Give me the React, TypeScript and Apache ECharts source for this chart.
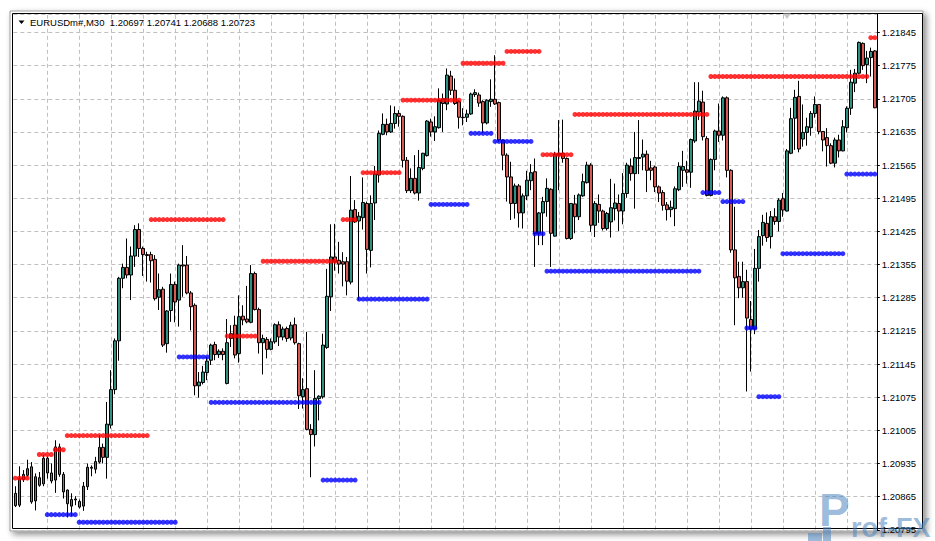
import React, { useEffect, useRef } from "react";
import * as echarts from "echarts";

// ---- data (prices) ----
const symbolTitle = "EURUSDm#,M30  1.20697 1.20741 1.20688 1.20723";
const BASE_PRICE = 1.20795; // lowest price-scale tick
const TICK_STEP = 0.0007;
const AXIS_TOP_PRICE = 1.218836;

// [open, high, low, close]
const ohlc: number[][] = [
  [1.20872,1.20887,1.20843,1.20846],[1.20847,1.20929,1.20843,1.20903],[1.20901,1.20921,1.20896,1.20912],[1.20910,1.20943,1.20907,1.20924],
  [1.20928,1.20938,1.20850,1.20854],[1.20856,1.20914,1.20836,1.20907],[1.20905,1.20917,1.20886,1.20889],[1.20892,1.20953,1.20887,1.20946],
  [1.20946,1.20949,1.20903,1.20915],[1.20915,1.20935,1.20893,1.20898],[1.20900,1.20984,1.20873,1.20970],[1.20970,1.20977,1.20907,1.20912],
  [1.20912,1.20917,1.20861,1.20875],[1.20879,1.20880,1.20821,1.20850],[1.20845,1.20872,1.20824,1.20859],[1.20858,1.20866,1.20847,1.20860],
  [1.20855,1.20859,1.20840,1.20843],[1.20845,1.20896,1.20835,1.20887],[1.20886,1.20935,1.20879,1.20927],[1.20927,1.20931,1.20908,1.20925],
  [1.20923,1.20949,1.20914,1.20939],[1.20938,1.20995,1.20935,1.20969],[1.20969,1.20977,1.20935,1.20948],[1.20948,1.21065,1.20903,1.21018],
  [1.21016,1.21132,1.21009,1.21091],[1.21091,1.21199,1.21081,1.21194],[1.21194,1.21329,1.21152,1.21326],[1.21326,1.21357,1.21305,1.21349],
  [1.21349,1.21410,1.21326,1.21333],[1.21333,1.21393,1.21280,1.21373],[1.21373,1.21438,1.21350,1.21429],[1.21429,1.21442,1.21371,1.21389],
  [1.21389,1.21393,1.21331,1.21376],[1.21376,1.21382,1.21319,1.21374],[1.21376,1.21382,1.21317,1.21363],[1.21366,1.21375,1.21279,1.21283],
  [1.21286,1.21336,1.21259,1.21302],[1.21303,1.21308,1.21181,1.21185],[1.21188,1.21259,1.21169,1.21257],[1.21258,1.21336,1.21234,1.21313],
  [1.21313,1.21319,1.21233,1.21276],[1.21280,1.21357,1.21224,1.21354],[1.21354,1.21396,1.21287,1.21352],[1.21354,1.21373,1.21292,1.21295],
  [1.21295,1.21299,1.21216,1.21266],[1.21269,1.21273,1.21079,1.21099],[1.21099,1.21128,1.21074,1.21107],[1.21106,1.21141,1.21102,1.21128],
  [1.21127,1.21160,1.21111,1.21151],[1.21153,1.21188,1.21143,1.21185],[1.21186,1.21192,1.21153,1.21165],[1.21165,1.21176,1.21158,1.21172],
  [1.21172,1.21178,1.21153,1.21165],[1.21104,1.21240,1.21102,1.21190],[1.21199,1.21227,1.21181,1.21209],[1.21227,1.21247,1.21157,1.21164],
  [1.21167,1.21290,1.21148,1.21245],[1.21246,1.21269,1.21227,1.21238],[1.21240,1.21310,1.21231,1.21234],[1.21233,1.21354,1.21231,1.21336],
  [1.21336,1.21340,1.21258,1.21260],[1.21260,1.21264,1.21167,1.21190],[1.21190,1.21207,1.21123,1.21199],[1.21197,1.21202,1.21157,1.21176],
  [1.21176,1.21199,1.21174,1.21192],[1.21192,1.21231,1.21188,1.21228],[1.21228,1.21235,1.21183,1.21202],[1.21202,1.21224,1.21195,1.21219],
  [1.21220,1.21224,1.21192,1.21199],[1.21200,1.21234,1.21195,1.21227],[1.21228,1.21243,1.21186,1.21190],[1.21188,1.21190,1.21050,1.21078],
  [1.21076,1.21115,1.21051,1.21091],[1.21093,1.21213,1.21005,1.21007],[1.21007,1.21018,1.20906,1.20996],[1.20996,1.21132,1.20971,1.21072],
  [1.21072,1.21079,1.21026,1.21077],[1.21076,1.21209,1.21072,1.21185],[1.21180,1.21346,1.21177,1.21288],[1.21287,1.21440,1.21257,1.21371],
  [1.21371,1.21441,1.21342,1.21361],[1.21364,1.21403,1.21336,1.21356],[1.21361,1.21381,1.21309,1.21356],[1.21361,1.21371,1.21290,1.21320],
  [1.21318,1.21542,1.21313,1.21470],[1.21471,1.21491,1.21443,1.21445],[1.21447,1.21466,1.21280,1.21457],[1.21454,1.21539,1.21429,1.21486],
  [1.21484,1.21488,1.21336,1.21387],[1.21385,1.21501,1.21349,1.21484],[1.21485,1.21563,1.21449,1.21546],[1.21544,1.21638,1.21528,1.21632],
  [1.21630,1.21674,1.21628,1.21651],[1.21651,1.21663,1.21628,1.21635],[1.21635,1.21691,1.21633,1.21653],[1.21653,1.21689,1.21642,1.21674],
  [1.21674,1.21681,1.21646,1.21668],[1.21668,1.21670,1.21560,1.21575],[1.21575,1.21582,1.21506,1.21511],[1.21511,1.21558,1.21506,1.21537],
  [1.21537,1.21586,1.21503,1.21506],[1.21506,1.21597,1.21490,1.21560],[1.21558,1.21591,1.21554,1.21590],[1.21585,1.21660,1.21583,1.21658],
  [1.21656,1.21663,1.21625,1.21635],[1.21635,1.21668,1.21616,1.21646],[1.21644,1.21727,1.21642,1.21702],[1.21695,1.21716,1.21635,1.21705],
  [1.21694,1.21769,1.21681,1.21755],[1.21753,1.21764,1.21713,1.21723],[1.21723,1.21748,1.21692,1.21695],[1.21699,1.21702,1.21642,1.21666],
  [1.21666,1.21685,1.21649,1.21665],[1.21666,1.21682,1.21656,1.21673],[1.21673,1.21718,1.21671,1.21715],[1.21714,1.21725,1.21709,1.21718],
  [1.21713,1.21718,1.21688,1.21696],[1.21699,1.21702,1.21632,1.21654],[1.21654,1.21704,1.21651,1.21702],[1.21699,1.21746,1.21688,1.21704],
  [1.21704,1.21797,1.21692,1.21694],[1.21697,1.21699,1.21614,1.21618],[1.21618,1.21619,1.21554,1.21586],[1.21586,1.21590,1.21488,1.21540],
  [1.21540,1.21572,1.21449,1.21484],[1.21484,1.21526,1.21452,1.21521],[1.21521,1.21525,1.21433,1.21464],[1.21464,1.21505,1.21431,1.21500],
  [1.21500,1.21553,1.21491,1.21533],[1.21532,1.21567,1.21512,1.21549],[1.21551,1.21579,1.21350,1.21421],[1.21421,1.21466,1.21396,1.21464],
  [1.21464,1.21498,1.21396,1.21488],[1.21488,1.21537,1.21456,1.21516],[1.21514,1.21516,1.21350,1.21421],[1.21415,1.21593,1.21414,1.21588],
  [1.21586,1.21660,1.21512,1.21590],[1.21590,1.21661,1.21570,1.21579],[1.21579,1.21581,1.21408,1.21410],[1.21410,1.21485,1.21407,1.21484],
  [1.21483,1.21502,1.21421,1.21456],[1.21456,1.21505,1.21449,1.21502],[1.21500,1.21547,1.21498,1.21530],[1.21528,1.21572,1.21526,1.21565],
  [1.21565,1.21569,1.21424,1.21438],[1.21438,1.21489,1.21413,1.21484],[1.21482,1.21503,1.21443,1.21468],[1.21468,1.21471,1.21427,1.21431],
  [1.21431,1.21466,1.21427,1.21463],[1.21445,1.21536,1.21412,1.21475],[1.21473,1.21526,1.21448,1.21485],[1.21484,1.21503,1.21426,1.21468],
  [1.21468,1.21548,1.21440,1.21505],[1.21505,1.21570,1.21496,1.21565],[1.21563,1.21579,1.21532,1.21547],[1.21547,1.21635,1.21473,1.21581],
  [1.21579,1.21660,1.21546,1.21581],[1.21582,1.21619,1.21554,1.21588],[1.21588,1.21596,1.21508,1.21554],[1.21559,1.21574,1.21533,1.21554],
  [1.21561,1.21564,1.21508,1.21519],[1.21519,1.21522,1.21487,1.21506],[1.21507,1.21512,1.21469,1.21480],[1.21481,1.21487,1.21448,1.21471],
  [1.21471,1.21490,1.21455,1.21476],[1.21473,1.21520,1.21436,1.21515],[1.21513,1.21571,1.21510,1.21562],[1.21554,1.21595,1.21519,1.21562],
  [1.21555,1.21574,1.21526,1.21550],[1.21550,1.21621,1.21517,1.21619],[1.21616,1.21740,1.21612,1.21679],[1.21677,1.21740,1.21660,1.21700],
  [1.21698,1.21722,1.21617,1.21625],[1.21621,1.21626,1.21499,1.21501],[1.21501,1.21579,1.21499,1.21577],[1.21577,1.21640,1.21554,1.21637],
  [1.21637,1.21695,1.21614,1.21628],[1.21628,1.21710,1.21617,1.21707],[1.21707,1.21710,1.21539,1.21554],[1.21554,1.21556,1.21380,1.21386],
  [1.21386,1.21477,1.21227,1.21327],[1.21330,1.21361,1.21284,1.21306],[1.21306,1.21361,1.21285,1.21319],[1.21319,1.21344,1.21087,1.21242],
  [1.21239,1.21278,1.21129,1.21219],[1.21219,1.21388,1.21208,1.21347],[1.21347,1.21428,1.21319,1.21414],[1.21416,1.21460,1.21395,1.21444],
  [1.21442,1.21465,1.21403,1.21412],[1.21414,1.21468,1.21389,1.21456],[1.21456,1.21474,1.21439,1.21446],[1.21446,1.21495,1.21425,1.21491],
  [1.21494,1.21506,1.21456,1.21470],[1.21468,1.21599,1.21467,1.21595],[1.21590,1.21686,1.21588,1.21663],[1.21664,1.21724,1.21597,1.21708],
  [1.21710,1.21743,1.21592,1.21599],[1.21620,1.21693,1.21604,1.21634],[1.21634,1.21665,1.21606,1.21646],[1.21644,1.21679,1.21627,1.21674],
  [1.21674,1.21710,1.21665,1.21693],[1.21693,1.21694,1.21630,1.21636],[1.21636,1.21637,1.21594,1.21618],[1.21623,1.21643,1.21562,1.21606],
  [1.21606,1.21611,1.21567,1.21569],[1.21569,1.21623,1.21560,1.21618],[1.21618,1.21629,1.21581,1.21595],[1.21595,1.21660,1.21594,1.21646],
  [1.21644,1.21689,1.21634,1.21685],[1.21685,1.21766,1.21671,1.21740],[1.21738,1.21768,1.21719,1.21759],[1.21759,1.21826,1.21757,1.21824],
  [1.21822,1.21824,1.21766,1.21775],[1.21777,1.21806,1.21738,1.21791],[1.21792,1.21813,1.21752,1.21805],[1.21806,1.21808,1.21685,1.21686],
];

// [firstBar, lastBar, price]
const resistanceLevels: number[][] = [
  [0, 3, 1.20904], [6, 9, 1.20954], [10, 12, 1.20964], [13, 33, 1.20994],
  [34, 52, 1.2145], [53, 60, 1.21204], [62, 80, 1.21362], [82, 85, 1.2145],
  [87, 96, 1.21549], [97, 111, 1.21702], [112, 122, 1.2178], [123, 131, 1.21805],
  [132, 139, 1.21587], [140, 173, 1.21672], [174, 213, 1.21752], [214, 215, 1.21834],
];
const supportLevels: number[][] = [
  [8, 15, 1.20827], [16, 40, 1.20811], [41, 48, 1.2116], [49, 76, 1.21064],
  [77, 85, 1.209], [86, 103, 1.21282], [104, 113, 1.21482], [114, 119, 1.21632],
  [120, 129, 1.21615], [130, 132, 1.2142], [133, 171, 1.21341], [172, 176, 1.21507],
  [177, 182, 1.21488], [183, 185, 1.21221], [186, 191, 1.21076], [192, 207, 1.21378],
  [208, 215, 1.21546],
];
// bars where the vertical (time) grid lines fall
const timeGridBars: number[] = [8,16,24,32,40,48,56,64,72,80,88,96,104,112,120,128,136,144,152,160,168,176,184,192,200,208];

const BULL = "#2f8f80";
const BEAR = "#d65a53";

// chart units: points above BASE_PRICE
const toPts = (p: number) => Math.round((p - BASE_PRICE) * 100000);
const STEP_PTS = Math.round(TICK_STEP * 100000);

export default function App() {
  const ref = useRef<HTMLDivElement>(null);
  useEffect(() => {
    const el = ref.current;
    if (!el) return;
    const chart = echarts.init(el, undefined, { renderer: "svg", width: 935, height: 541 });
    const cats = ohlc.map((_, i) => String(i));
    const candleData = ohlc.map(([o, h, l, c]) => [toPts(o), toPts(c), toPts(l), toPts(h)]);
    const levelPts = (levels: number[][]) => {
      const out: number[][] = [];
      levels.forEach(([s, e, p]) => {
        for (let i = s; i <= e; i++) out.push([i, toPts(p)]);
      });
      return out;
    };
    const font = "'Liberation Sans', Arial, sans-serif";
    const wm = "rgba(74,132,190,0.55)";
    chart.setOption({
      animation: false,
      backgroundColor: "#ffffff",
      grid: { left: 13.3, top: 14, width: 863.5, height: 515.8, containLabel: false },
      xAxis: {
        type: "category",
        data: cats,
        boundaryGap: true,
        axisLine: { show: false },
        axisTick: { show: false },
        axisLabel: { show: false },
        splitLine: { show: false },
      },
      yAxis: {
        type: "value",
        position: "right",
        min: 0,
        max: toPts(AXIS_TOP_PRICE),
        interval: STEP_PTS,
        axisLine: { show: true, lineStyle: { color: "#000", width: 1 } },
        axisTick: { show: true, length: 3, lineStyle: { color: "#000" } },
        axisLabel: {
          margin: 5,
          color: "#000",
          fontSize: 9.5,
          fontFamily: font,
          showMinLabel: true,
          showMaxLabel: false,
          formatter: (v: number) => (BASE_PRICE + v / 100000).toFixed(5),
        },
        splitLine: { show: true, lineStyle: { color: "#c0c0c0", type: [4, 3], width: 1 } },
      },
      series: [
        {
          type: "candlestick",
          data: candleData,
          barWidth: 3,
          z: 3,
          itemStyle: {
            color: BULL,
            color0: BEAR,
            borderColor: "#000",
            borderColor0: "#000",
            borderColorDoji: "#000",
            borderWidth: 1,
          },
          markLine: {
            silent: true,
            z: 1,
            symbol: ["none", "none"],
            label: { show: false },
            emphasis: { disabled: true },
            lineStyle: { color: "#c0c0c0", type: [4, 3], width: 1 },
            data: timeGridBars.map((i) => ({ xAxis: cats[i] })),
          },
        },
        {
          type: "scatter",
          data: levelPts(resistanceLevels),
          symbol: "circle",
          symbolSize: 5,
          z: 4,
          itemStyle: { color: "#ff0000" },
          silent: true,
        },
        {
          type: "scatter",
          data: levelPts(supportLevels),
          symbol: "circle",
          symbolSize: 5,
          z: 4,
          itemStyle: { color: "#0000ff" },
          silent: true,
        },
      ],
      graphic: [
        {
          type: "rect",
          z: -10,
          silent: true,
          shape: { x: 10, y: 11, width: 913, height: 520 },
          style: {
            fill: "#ffffff",
            stroke: "#a0a0a0",
            lineWidth: 1,
            shadowBlur: 6,
            shadowOffsetX: 3,
            shadowOffsetY: 3,
            shadowColor: "rgba(0,0,0,0.45)",
          },
        },
        {
          type: "rect",
          z: 20,
          silent: true,
          shape: { x: 12.5, y: 13.5, width: 910, height: 515 },
          style: { fill: "none", stroke: "#000", lineWidth: 1 },
        },
        {
          type: "polygon",
          z: 20,
          silent: true,
          shape: { points: [[18.5, 20.5], [24.5, 20.5], [21.5, 24]] },
          style: { fill: "#000" },
        },
        {
          type: "text",
          z: 20,
          silent: true,
          x: 30,
          y: 22.7,
          style: { text: symbolTitle, fill: "#000", font: `9.5px ${font}`, verticalAlign: "middle", align: "left" },
        },
        {
          type: "polygon",
          z: 20,
          silent: true,
          shape: { points: [[783, 13.5], [791, 13.5], [787, 19]] },
          style: { fill: "#c8c8c8" },
        },
        // watermark logo "Prof-FX"
        {
          type: "rect",
          z: 30,
          silent: true,
          shape: { x: 808, y: 533, width: 14, height: 8 },
          style: { fill: wm },
        },
        {
          type: "rect",
          z: 30,
          silent: true,
          shape: { x: 823, y: 527, width: 8, height: 14 },
          style: { fill: wm },
        },
        {
          type: "text",
          z: 30,
          silent: true,
          x: 819,
          y: 487,
          style: { text: "P", fill: wm, font: `bold 46px 'Liberation Sans', sans-serif`, verticalAlign: "top", align: "left" },
        },
        {
          type: "text",
          z: 30,
          silent: true,
          x: 851,
          y: 541,
          style: { text: "rof-FX", fill: wm, font: `bold 27px 'Liberation Sans', sans-serif`, verticalAlign: "bottom", align: "left" },
        },
      ],
    });
    return () => chart.dispose();
  }, []);
  return (
    <div
      ref={ref}
      style={{ position: "absolute", left: 0, top: 0, width: 935, height: 541, background: "#fff" }}
    />
  );
}
